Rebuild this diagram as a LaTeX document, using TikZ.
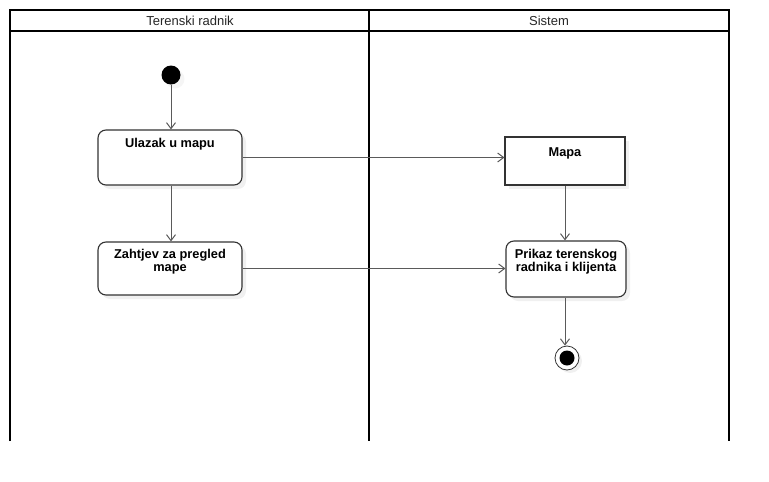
\documentclass[tikz,border=0pt]{standalone}
\usepackage{fontspec}
\setmainfont{Liberation Sans}
\usetikzlibrary{arrows.meta,shadows}
\definecolor{edge}{HTML}{5A5A5A}
\definecolor{border}{HTML}{333333}
\tikzset{
  lane/.style={line width=2pt, black},
  act/.style={draw=border, line width=1.1pt, rounded corners=8pt, fill=white,
    drop shadow={opacity=0.12, shadow xshift=4pt, shadow yshift=-4pt}},
  plainbox/.style={draw=border, line width=1.1pt, fill=white,
    drop shadow={opacity=0.12, shadow xshift=4pt, shadow yshift=-4pt}},
  acttext/.style={font=\bfseries\fontsize{12.8}{13}\selectfont, align=center, inner sep=0pt, anchor=north},
  flow/.style={draw=edge, line width=1pt, -{Straight Barb[length=6pt,width=9pt]}},
  headtext/.style={font=\fontsize{13}{15}\selectfont, text=black!85}
}
\begin{document}
\begin{tikzpicture}[x=1pt,y=-1pt]
\useasboundingbox (0,0) rectangle (769,482);
% swimlanes
\draw[lane] (10,441) -- (10,10) -- (729,10) -- (729,441);
\draw[lane] (10,31) -- (729,31);
\draw[lane] (369,10) -- (369,441);
\node[headtext] (h1) at (190,20.5) {Terenski radnik};
\node[headtext] (h2) at (549,20.5) {Sistem};
% initial node
\node[circle, fill=black, minimum size=19pt, inner sep=0pt,
  drop shadow={opacity=0.08, shadow xshift=4pt, shadow yshift=-4pt}] (i) at (171,75) {};
% activities
\node[act, minimum width=144pt, minimum height=55pt] (u) at (170,157.5) {};
\node[acttext] (ut) at (170,138) {Ulazak u mapu};
\node[act, minimum width=144pt, minimum height=53pt] (z) at (170,268.5) {};
\node[acttext] (zt) at (170,249.5) {Zahtjev za pregled\\mape};
\node[plainbox, minimum width=120pt, minimum height=48pt] (m) at (565,161) {};
\node[acttext] (mt) at (565,147) {Mapa};
\node[act, minimum width=120pt, minimum height=56pt] (p) at (566,269) {};
\node[acttext] (pt) at (566,249.5) {Prikaz terenskog\\radnika i klijenta};
% final node
\node[circle, draw=border, line width=0.8pt, fill=white, minimum size=24pt, inner sep=0pt,
  drop shadow={opacity=0.12, shadow xshift=3pt, shadow yshift=-3pt}] (f) at (567,358) {};
\node[circle, fill=black, minimum size=15pt, inner sep=0pt] (fi) at (f) {};
% flows
\draw[flow] (i) -- (i |- u.north);
\draw[flow] (i |- u.south) -- (i |- z.north);
\draw[flow] (u.east) -- (u.east -| m.west);
\draw[flow] (z.east) -- (z.east -| p.west);
\draw[flow] (m.south) -- (m.south |- p.north);
\draw[flow] (m.south |- p.south) -- (m.south |- f.north);
\end{tikzpicture}
\end{document}
